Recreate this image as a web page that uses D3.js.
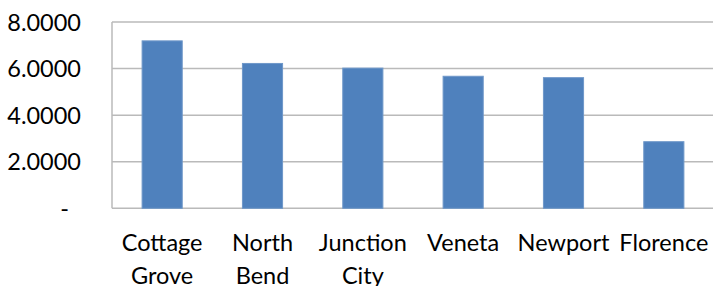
<!DOCTYPE html>
<html>
<head>
<meta charset="utf-8">
<script src="https://cdn.jsdelivr.net/npm/d3@7"></script>
<style>
  body { margin: 0; background: #fff; }
  .chart { width: 713px; height: 286px; }
  text { font-family: Lato, "Open Sans", sans-serif; fill: #000; }
</style>
</head>
<body>
<div class="chart"></div>
<script>
// the data
const towns = [['Cottage', 'Grove'], ['North', 'Bend'], ['Junction', 'City'], ['Veneta'], ['Newport'], ['Florence']];
const values = [7.19, 6.22, 6.02, 5.67, 5.61, 2.86];
const yTicks = [0, 2, 4, 6, 8];

const width = 713;
const height = 286;

let svg = d3.select('.chart').append('svg').attr('width', width).attr('height', height);

// plot area edges
const plotLeft = 112, plotRight = 714, plotTop = 22, plotBottom = 208.3;

let x = d3.scaleBand()
    .domain(towns.map((d, i) => i))
    .range([plotLeft, plotRight])
    .paddingInner(0.6)
    .paddingOuter(0.3);

let y = d3.scaleLinear().domain([0, 8]).range([plotBottom, plotTop]);

// horizontal gridlines
svg.append('g').selectAll('line')
    .data(yTicks)
    .join('line')
    .attr('x1', plotLeft)
    .attr('x2', plotRight)
    .attr('y1', d => y(d))
    .attr('y2', d => y(d))
    .attr('stroke', '#bababa')
    .attr('stroke-width', 1.5);

// left border of the plot
svg.append('line')
    .attr('x1', plotLeft).attr('x2', plotLeft)
    .attr('y1', y(8)).attr('y2', y(0))
    .attr('stroke', '#bababa')
    .attr('stroke-width', 1.5);

// y axis labels, zero shows as a dash like excel accounting format
let yAxis = d3.axisLeft(y)
    .tickValues(yTicks)
    .tickSize(0)
    .tickPadding(31)
    .tickFormat(d => d === 0 ? '-' : d3.format('.4f')(d));

let ya = svg.append('g').attr('transform', `translate(${plotLeft},0)`).call(yAxis);
ya.select('.domain').remove();
ya.attr('font-family', null).attr('font-size', null);
ya.selectAll('text')
    .attr('font-size', '23.5px')
    .attr('dy', '0.34em')
    .attr('dx', d => d === 0 ? -12 : 0);

// bars
svg.append('g').selectAll('rect')
    .data(values)
    .join('rect')
    .attr('x', (d, i) => x(i))
    .attr('y', d => y(d))
    .attr('width', x.bandwidth())
    .attr('height', d => y(0) - y(d))
    .attr('fill', '#4f81bd')
    .attr('stroke', '#6f98c9')
    .attr('stroke-width', 1);

// category labels, split over two lines
let labels = svg.append('g').selectAll('text')
    .data(towns)
    .join('text')
    .attr('text-anchor', 'middle')
    .attr('font-size', '23.5px')
    .attr('x', (d, i) => x(i) + x.bandwidth() / 2)
    .attr('y', 250.5);

labels.selectAll('tspan')
    .data(d => d)
    .join('tspan')
    .attr('x', function(){ return d3.select(this.parentNode).attr('x'); })
    .attr('dy', (d, i) => i === 0 ? 0 : 33.5)
    .text(d => d);
</script>
</body>
</html>
